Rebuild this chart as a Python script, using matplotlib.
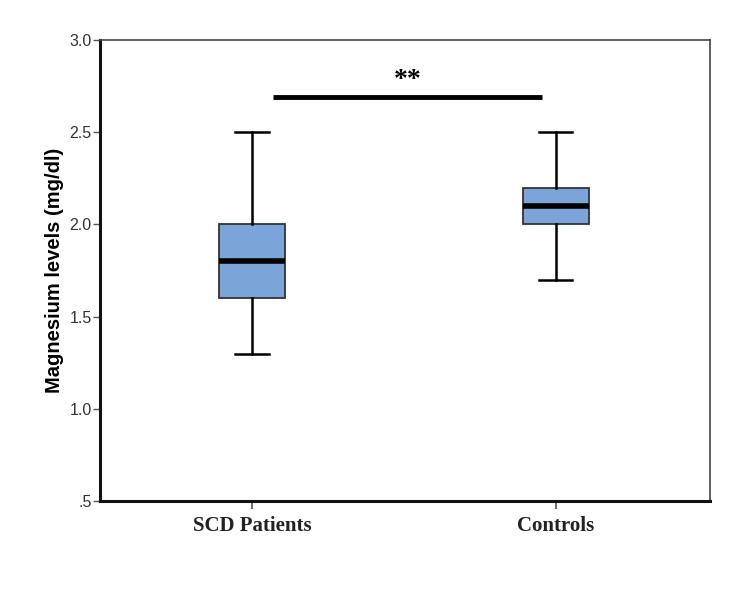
import matplotlib
matplotlib.use("Agg")
import matplotlib.pyplot as plt

categories = ["SCD Patients", "Controls"]
whislo = [1.3, 1.7]
q1 = [1.6, 2.0]
med = [1.8, 2.1]
q3 = [2.0, 2.2]
whishi = [2.5, 2.5]
yticks = [0.5, 1.0, 1.5, 2.0, 2.5, 3.0]
yticklabels = [".5", "1.0", "1.5", "2.0", "2.5", "3.0"]
sig_y = 2.69
sig_x = [0.07, 0.955]
sig_label = "**"

fig = plt.figure(figsize=(7.5, 6.09), dpi=100)
ax = fig.add_axes([0.1333, 0.1773, 0.8134, 0.7570])

stats = []
for i, c in enumerate(categories):
    stats.append(dict(label=c, whislo=whislo[i], q1=q1[i], med=med[i],
                      q3=q3[i], whishi=whishi[i], fliers=[]))

ax.bxp(stats, positions=[0, 1], widths=0.217, patch_artist=True,
       showfliers=False, capwidths=0.11,
       boxprops=dict(facecolor="#7BA4D8", edgecolor="#333333", linewidth=1.3),
       medianprops=dict(color="black", linewidth=4),
       whiskerprops=dict(color="black", linewidth=1.8),
       capprops=dict(color="black", linewidth=1.8))

ax.set_xlim(-0.5, 1.508)
ax.set_ylim(0.5, 3.0)
ax.set_yticks(yticks)
ax.set_yticklabels(yticklabels, fontfamily="Liberation Sans", fontsize=11.5, color="#333333")
ax.set_xticks([0, 1])
ax.set_xticklabels(categories, fontfamily="Liberation Serif", fontsize=15, fontweight="bold", color="#222222")
ax.tick_params(axis="y", direction="out", length=5, width=1, color="#555555", pad=1)
ax.tick_params(axis="x", direction="out", length=6, width=1.2, color="#555555", pad=5)
ax.set_ylabel("Magnesium levels (mg/dl)", fontfamily="Liberation Sans", fontsize=14.5,
              fontweight="bold", labelpad=4)

ax.spines["left"].set_linewidth(2.2)
ax.spines["bottom"].set_linewidth(2.2)
ax.spines["left"].set_color("#111111")
ax.spines["bottom"].set_color("#111111")
ax.spines["top"].set_linewidth(1.2)
ax.spines["right"].set_linewidth(1.2)
ax.spines["top"].set_color("#444444")
ax.spines["right"].set_color("#444444")

ax.plot(sig_x, [sig_y, sig_y], color="black", linewidth=3.5, solid_capstyle="butt")
ax.text(sum(sig_x) / 2, sig_y + 0.02, sig_label, ha="center", va="bottom",
        fontfamily="Liberation Serif", fontsize=20, fontweight="bold")

fig.savefig("out.png", dpi=100)
